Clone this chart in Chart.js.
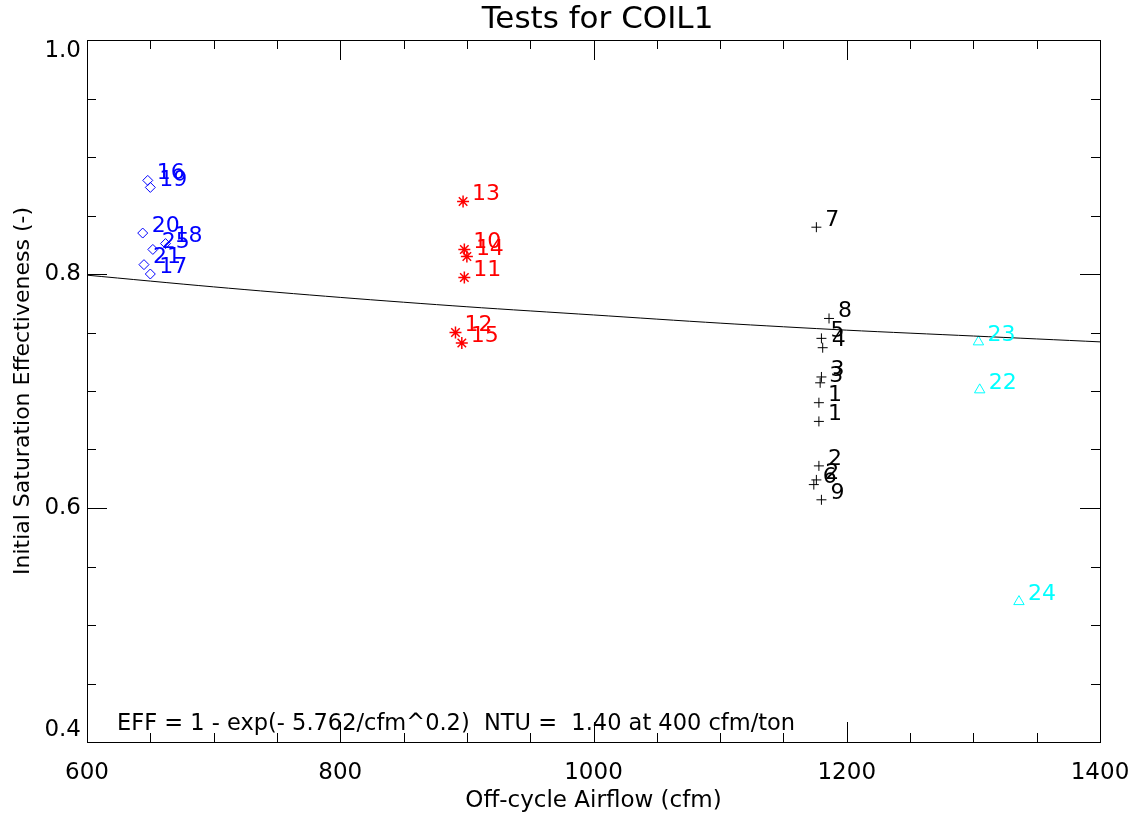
<!DOCTYPE html>
<html>
<head>
<meta charset="utf-8">
<title>Tests for COIL1</title>
<script src="https://cdn.jsdelivr.net/npm/chart.js@4.4.0/dist/chart.umd.min.js"></script>
<style>
  html, body { margin: 0; padding: 0; background: #fff; }
  #wrap { width: 1135px; height: 822px; }
</style>
</head>
<body>
<div id="wrap"><canvas id="coilChart" width="1135" height="822"></canvas></div>
<script>
// values (x = off-cycle airflow in cfm, y = effectiveness)
const blueX = [648, 650, 644, 662, 652, 645, 650];
const blueY = [0.880, 0.874, 0.835, 0.826, 0.821, 0.808, 0.800];
const blueTags = ['16', '19', '20', '18', '25', '21', '17'];

const redX = [897, 898, 900, 898, 891, 896];
const redY = [0.862, 0.821, 0.815, 0.797, 0.750, 0.741];
const redTags = ['13', '10', '14', '11', '12', '15'];

const blackX = [1176, 1186, 1180, 1181, 1180, 1179, 1178, 1178, 1178, 1176, 1174, 1180];
const blackY = [0.840, 0.762, 0.745, 0.737, 0.712, 0.707, 0.690, 0.674, 0.636, 0.624, 0.620, 0.607];
const blackTags = ['7', '8', '5', '4', '3', '3', '1', '1', '2', '2', '6', '9'];

const cyanX = [1304, 1305, 1336];
const cyanY = [0.742, 0.701, 0.520];
const cyanTags = ['23', '22', '24'];

// fitted curve EFF = 1 - exp(-5.762/cfm^0.2), read at each 100 cfm
const fitX = [600, 700, 800, 900, 1000, 1100, 1200, 1300, 1400];
const fitY = [0.799, 0.789, 0.780, 0.772, 0.765, 0.758, 0.752, 0.747, 0.742];

const xLabelled = [600, 800, 1000, 1200, 1400];
const yLabelled = [0.4, 0.6, 0.8, 1.0];

const titleText = 'Tests for COIL1';
const noteText = 'EFF = 1 - exp(- 5.762/cfm^0.2)  NTU =  1.40 at 400 cfm/ton';

const FONT = '"DejaVu Sans", sans-serif';

function pts(xs, ys) {
  return xs.map((x, i) => ({ x, y: ys[i] }));
}
function isLabelledX(v) {
  return xLabelled.some(l => Math.abs(l - v) < 1e-6);
}
function isLabelledY(v) {
  return yLabelled.some(l => Math.abs(l - v) < 1e-6);
}
// IDL keeps the end labels inside the frame: push top one down, bottom one up
function yLabel(v) {
  if (!isLabelledY(v)) return '';
  const s = v.toFixed(1);
  if (Math.abs(v - 1.0) < 1e-6) return ['', s];
  if (Math.abs(v - 0.4) < 1e-6) return [s, ''];
  return s;
}

// number tags beside each marker
const pointTags = {
  id: 'pointTags',
  afterDatasetsDraw(chart) {
    const ctx = chart.ctx;
    chart.data.datasets.forEach((ds, i) => {
      if (!ds.tags) return;
      const meta = chart.getDatasetMeta(i);
      ctx.save();
      ctx.font = '22px ' + FONT;
      ctx.fillStyle = ds.borderColor;
      ctx.textBaseline = 'middle';
      meta.data.forEach((pt, j) => ctx.fillText(ds.tags[j], pt.x + 9, pt.y - 7));
      ctx.restore();
    });
  }
};

// closed frame with inward ticks on all four sides, plus title and note
const frame = {
  id: 'frame',
  afterDraw(chart) {
    const { ctx, chartArea: a, scales: { x, y } } = chart;
    ctx.save();
    ctx.strokeStyle = '#000';
    ctx.lineWidth = 1;
    ctx.strokeRect(a.left + 0.5, a.top + 0.5, a.right - a.left, a.bottom - a.top);
    ctx.beginPath();
    x.ticks.forEach(t => {
      const px = Math.round(x.getPixelForValue(t.value)) + 0.5;
      const len = isLabelledX(t.value) ? 20 : 9;
      ctx.moveTo(px, a.bottom); ctx.lineTo(px, a.bottom - len);
      ctx.moveTo(px, a.top); ctx.lineTo(px, a.top + len);
    });
    y.ticks.forEach(t => {
      const py = Math.round(y.getPixelForValue(t.value)) + 0.5;
      const len = isLabelledY(t.value) ? 20 : 9;
      ctx.moveTo(a.left, py); ctx.lineTo(a.left + len, py);
      ctx.moveTo(a.right, py); ctx.lineTo(a.right - len, py);
    });
    ctx.stroke();

    ctx.fillStyle = '#000';
    ctx.font = '31px ' + FONT;
    ctx.textAlign = 'center';
    ctx.textBaseline = 'middle';
    ctx.fillText(titleText, (a.left + a.right) / 2 + 4, 20);
    ctx.font = '22.5px ' + FONT;
    ctx.textAlign = 'left';
    ctx.fillText(noteText, 117, 724);
    ctx.restore();
  }
};

new Chart(document.getElementById('coilChart'), {
  type: 'scatter',
  data: {
    datasets: [
      {
        type: 'line', data: pts(fitX, fitY), borderColor: '#000', borderWidth: 1,
        pointRadius: 0, fill: false, tension: 0.3
      },
      {
        data: pts(blueX, blueY), tags: blueTags, pointStyle: 'rectRot', pointRadius: 5,
        borderColor: '#0000ff', backgroundColor: 'rgba(0,0,0,0)', pointBorderWidth: 1
      },
      {
        data: pts(redX, redY), tags: redTags, pointStyle: 'star', pointRadius: 6,
        borderColor: '#ff0000', backgroundColor: '#ff0000', pointBorderWidth: 1.5
      },
      {
        data: pts(blackX, blackY), tags: blackTags, pointStyle: 'cross', pointRadius: 5,
        borderColor: '#000', backgroundColor: '#000', pointBorderWidth: 1
      },
      {
        data: pts(cyanX, cyanY), tags: cyanTags, pointStyle: 'triangle', pointRadius: 6,
        borderColor: '#00ffff', backgroundColor: 'rgba(0,0,0,0)', pointBorderWidth: 1
      }
    ]
  },
  options: {
    responsive: false,
    animation: false,
    devicePixelRatio: 1,
    layout: { padding: { top: 40, right: 35, left: 0, bottom: 0 } },
    plugins: { legend: { display: false }, tooltip: { enabled: false } },
    scales: {
      x: {
        min: 600, max: 1400,
        afterFit(scale) {
          scale.height = 80;
          scale.paddingLeft = 0;
          scale.paddingRight = 0;
        },
        grid: { display: false, drawTicks: false },
        border: { display: true, color: '#000' },
        ticks: {
          stepSize: 50, autoSkip: false, maxRotation: 0, padding: 17,
          color: '#000', font: { family: FONT, size: 23 },
          callback: v => isLabelledX(v) ? String(v) : ''
        },
        title: {
          display: true, text: 'Off-cycle Airflow (cfm)', color: '#000',
          font: { family: FONT, size: 23 }, padding: { top: 0, bottom: 7 }
        }
      },
      y: {
        min: 0.4, max: 1.0,
        afterFit(scale) { scale.width = 87; },
        grid: { display: false, drawTicks: false },
        border: { display: true, color: '#000' },
        ticks: {
          stepSize: 0.05, autoSkip: false, padding: 6,
          color: '#000', font: { family: FONT, size: 23, lineHeight: 1.0 },
          callback: v => yLabel(v)
        },
        title: {
          display: true, text: 'Initial Saturation Effectiveness (-)', color: '#000',
          font: { family: FONT, size: 22 }, padding: { top: 10, bottom: 0 }
        }
      }
    }
  },
  plugins: [pointTags, frame]
});
</script>
</body>
</html>
